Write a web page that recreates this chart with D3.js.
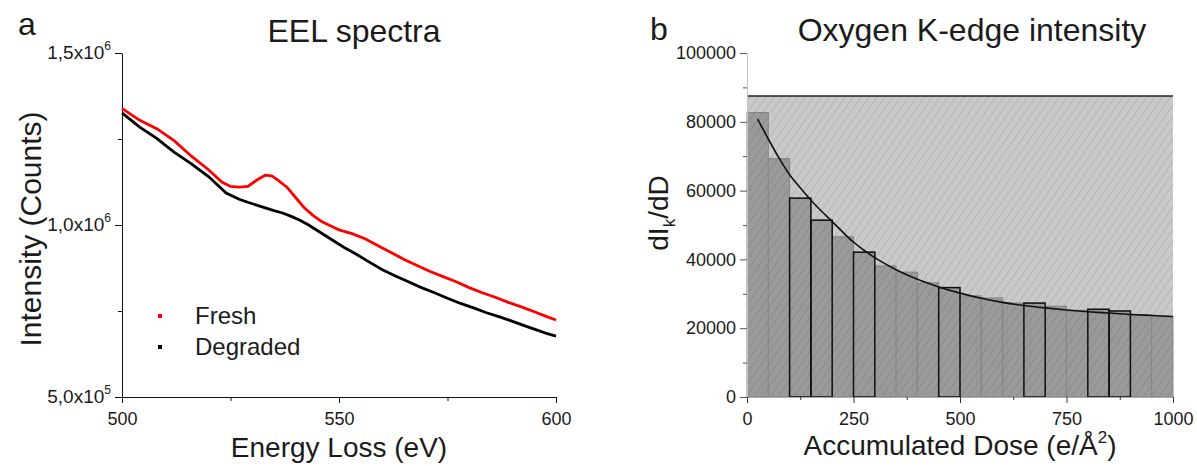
<!DOCTYPE html>
<html>
<head>
<meta charset="utf-8">
<script src="https://cdn.jsdelivr.net/npm/d3@7"></script>
<style>
  body { margin: 0; background: #fff; }
  svg text { font-family: "Liberation Sans", Arial, sans-serif; fill: #1b1b1b; }
</style>
</head>
<body>
<svg id="fig" width="1197" height="466"></svg>
<script>
// panel a : EEL spectra (energy in eV, counts)
const freshEnergy = [500, 504, 508, 512, 516, 520, 523, 525, 527, 529, 531, 533, 534.5, 536, 538, 540, 542, 544, 546, 548, 550,
  553, 556, 559, 562, 565, 568, 571, 574, 577, 580, 583, 586, 589, 592, 595, 598, 600];
const freshCounts = [1339000, 1305000, 1280000, 1245000, 1200000, 1160000, 1125000, 1112000, 1110000, 1112000, 1130000, 1145000,
  1143000, 1130000, 1110000, 1080000, 1050000, 1028000, 1010000, 998000, 986000, 975000, 960000, 940000, 920000, 900000, 882000,
  865000, 850000, 835000, 818000, 803000, 790000, 775000, 762000, 748000, 733000, 724000];
const degradedEnergy = [500, 504, 508, 512, 516, 520, 524, 527, 529, 531, 533, 535, 537, 539, 541, 543, 545, 547, 549, 551, 554,
  557, 560, 563, 566, 569, 572, 575, 578, 581, 584, 587, 590, 593, 596, 598, 600];
const degradedCounts = [1326000, 1285000, 1252000, 1212000, 1178000, 1140000, 1093000, 1075000, 1066000, 1058000, 1050000,
  1042000, 1035000, 1025000, 1014000, 1000000, 984000, 968000, 952000, 936000, 915000, 892000, 870000, 852000, 835000, 818000,
  803000, 787000, 772000, 759000, 745000, 733000, 720000, 706000, 693000, 684000, 677000];
const eelTicks = [500000, 1000000, 1500000];
const eelTickMantissa = ["5,0", "1,0", "1,5"];
const eelTickExp = ["5", "6", "6"];
const energyTicks = [500, 550, 600];

// panel b : oxygen K-edge intensity vs dose
const binStart = [0, 50, 100, 150, 200, 250, 300, 350, 400, 450, 500, 550, 600, 650, 700, 750, 800, 850, 900, 950];
const binValue = [82700, 69300, 57800, 51400, 46600, 42100, 38100, 36300, 33200, 31800, 29400, 28800, 27300, 27300, 26400,
  25200, 25500, 25000, 23900, 23300];
const outlinedBins = [100, 150, 250, 450, 650, 800, 850];
const fitDose = [25, 50, 75, 100, 125, 150, 175, 200, 250, 300, 350, 400, 450, 500, 550, 600, 650, 700, 750, 800, 850, 900, 950, 1000];
const fitValue = [80800, 75000, 69500, 64600, 60800, 57200, 54000, 51000, 45000, 40500, 37000, 34200, 32000, 30200, 28700,
  27500, 26600, 25900, 25300, 24800, 24400, 24000, 23700, 23400];
const ceilingValue = 87500;
const doseTicks = [0, 250, 500, 750, 1000];
const doseMinor = [125, 375, 625, 875];
const kTicks = [0, 20000, 40000, 60000, 80000, 100000];
const kMinor = [10000, 30000, 50000, 70000, 90000];

const svg = d3.select("#fig");
const defs = svg.append("defs");

function hatch(id, bg, fg) {
  const p = defs.append("pattern")
    .attr("id", id)
    .attr("patternUnits", "userSpaceOnUse")
    .attr("width", 6.5).attr("height", 6.5)
    .attr("patternTransform", "rotate(35)");
  p.append("rect").attr("width", 6.5).attr("height", 6.5).attr("fill", bg);
  p.append("line").attr("x1", 0.5).attr("x2", 0.5).attr("y1", 0).attr("y2", 6.5)
    .attr("stroke", fg).attr("stroke-width", 0.8);
}
hatch("hatchLight", "#c9c9c9", "#b0b0b0");
hatch("hatchDark", "#9a9a9a", "#878787");

function styleAxis(g, color, size) {
  g.selectAll("path.domain").attr("stroke", color);
  g.selectAll(".tick line").attr("stroke", color);
  g.selectAll(".tick text").attr("font-size", size).attr("fill", "#1b1b1b")
    .attr("font-family", "'Liberation Sans', Arial, sans-serif");
}

// ---------- panel a ----------
const xA = d3.scaleLinear().domain([500, 600]).range([122, 556]);
const yA = d3.scaleLinear().domain([500000, 1500000]).range([397, 53]);

const gA = svg.append("g");

const yAxA = gA.append("g").attr("transform", "translate(122,0)")
  .call(d3.axisLeft(yA).tickValues(eelTicks).tickSize(7).tickSizeOuter(0).tickFormat(""));
styleAxis(yAxA, "#111", 18);
gA.append("g").attr("transform", "translate(122,0)")
  .call(d3.axisLeft(yA).tickValues([750000, 1250000]).tickSize(4).tickFormat(""))
  .call(g => g.select(".domain").remove())
  .selectAll("line").attr("stroke", "#111");

eelTicks.forEach((v, i) => {
  const t = gA.append("text")
    .attr("x", 111).attr("y", yA(v) + 6)
    .attr("text-anchor", "end")
    .attr("font-size", 19);
  t.append("tspan").text(eelTickMantissa[i] + "x10");
  t.append("tspan").attr("font-size", 12).attr("dy", -9).text(eelTickExp[i]);
});

const xAxA = gA.append("g").attr("transform", "translate(0,397)")
  .call(d3.axisBottom(xA).tickValues(energyTicks).tickSize(6).tickPadding(9).tickSizeOuter(0));
styleAxis(xAxA, "#111", 18);
gA.append("g").attr("transform", "translate(0,397)")
  .call(d3.axisBottom(xA).tickValues([525, 575]).tickSize(4).tickFormat(""))
  .call(g => g.select(".domain").remove())
  .selectAll("line").attr("stroke", "#111");

const lineA = d3.line().x(d => xA(d[0])).y(d => yA(d[1]));
gA.append("path")
  .datum(d3.zip(degradedEnergy, degradedCounts))
  .attr("d", lineA).attr("fill", "none").attr("stroke", "#000").attr("stroke-width", 2.8);
gA.append("path")
  .datum(d3.zip(freshEnergy, freshCounts))
  .attr("d", lineA).attr("fill", "none").attr("stroke", "#ff0000").attr("stroke-width", 2.8);

const legend = [{ name: "Fresh", color: "#ff0000", y: 316 }, { name: "Degraded", color: "#000", y: 347 }];
legend.forEach(l => {
  gA.append("rect").attr("x", 158).attr("y", l.y - 2).attr("width", 4).attr("height", 4).attr("fill", l.color);
  gA.append("text").attr("x", 195).attr("y", l.y + 8).attr("font-size", 24).text(l.name);
});

gA.append("text").attr("x", 18).attr("y", 35).attr("font-size", 32).text("a");
gA.append("text").attr("x", 354).attr("y", 42).attr("text-anchor", "middle").attr("font-size", 32).text("EEL spectra");
gA.append("text").attr("x", 339).attr("y", 457).attr("text-anchor", "middle").attr("font-size", 28).text("Energy Loss (eV)");
gA.append("text").attr("transform", "translate(41,229) rotate(-90)")
  .attr("text-anchor", "middle").attr("font-size", 30).text("Intensity (Counts)");

// ---------- panel b ----------
const xB = d3.scaleLinear().domain([0, 1000]).range([747, 1173]);
const yB = d3.scaleLinear().domain([0, 100000]).range([397, 53]);

const gB = svg.append("g");

gB.append("rect")
  .attr("x", xB(0)).attr("y", yB(ceilingValue))
  .attr("width", xB(1000) - xB(0)).attr("height", yB(0) - yB(ceilingValue))
  .attr("fill", "url(#hatchLight)");

const bars = d3.zip(binStart, binValue);
gB.selectAll("rect.bar")
  .data(bars)
  .join("rect")
  .attr("class", "bar")
  .attr("x", d => xB(d[0]))
  .attr("y", d => yB(d[1]))
  .attr("width", d => xB(d[0] + 50) - xB(d[0]))
  .attr("height", d => yB(0) - yB(d[1]))
  .attr("fill", "url(#hatchDark)")
  .attr("stroke", "#858585")
  .attr("stroke-width", 1);

gB.selectAll("rect.outl")
  .data(bars.filter(d => outlinedBins.includes(d[0])))
  .join("rect")
  .attr("class", "outl")
  .attr("x", d => xB(d[0]))
  .attr("y", d => yB(d[1]))
  .attr("width", d => xB(d[0] + 50) - xB(d[0]))
  .attr("height", d => yB(0) - yB(d[1]))
  .attr("fill", "none")
  .attr("stroke", "#111")
  .attr("stroke-width", 1.5);

gB.append("line")
  .attr("x1", xB(0)).attr("x2", xB(1000))
  .attr("y1", yB(ceilingValue)).attr("y2", yB(ceilingValue))
  .attr("stroke", "#222").attr("stroke-width", 1.6);

gB.append("path")
  .datum(d3.zip(fitDose, fitValue))
  .attr("d", d3.line().x(d => xB(d[0])).y(d => yB(d[1])).curve(d3.curveMonotoneX))
  .attr("fill", "none").attr("stroke", "#111").attr("stroke-width", 1.6);

const yAxB = gB.append("g").attr("transform", "translate(747,0)")
  .call(d3.axisLeft(yB).tickValues(kTicks).tickSize(7).tickPadding(4).tickSizeOuter(0).tickFormat(d3.format("d")));
styleAxis(yAxB, "#555", 18);
yAxB.select("path.domain").attr("stroke", "#c4c4c4");
gB.append("g").attr("transform", "translate(747,0)")
  .call(d3.axisLeft(yB).tickValues(kMinor).tickSize(4).tickFormat(""))
  .call(g => g.select(".domain").remove())
  .selectAll("line").attr("stroke", "#555");

const xAxB = gB.append("g").attr("transform", "translate(0,397)")
  .call(d3.axisBottom(xB).tickValues(doseTicks).tickSize(6).tickPadding(9).tickSizeOuter(0).tickFormat(d3.format("d")));
styleAxis(xAxB, "#333", 18);
xAxB.select("path.domain").attr("stroke", "#aaa");
gB.append("g").attr("transform", "translate(0,397)")
  .call(d3.axisBottom(xB).tickValues(doseMinor).tickSize(3).tickFormat(""))
  .call(g => g.select(".domain").remove())
  .selectAll("line").attr("stroke", "#333");

gB.append("text").attr("x", 650).attr("y", 40).attr("font-size", 32).text("b");
gB.append("text").attr("x", 972).attr("y", 41).attr("text-anchor", "middle").attr("font-size", 32).text("Oxygen K-edge intensity");

const xt = gB.append("text").attr("x", 960).attr("y", 455).attr("text-anchor", "middle").attr("font-size", 28);
xt.append("tspan").text("Accumulated Dose (e/Å");
xt.append("tspan").attr("font-size", 17).attr("dy", -12).text("2");
xt.append("tspan").attr("dy", 12).text(")");

const yt = gB.append("text").attr("transform", "translate(668,213) rotate(-90)")
  .attr("text-anchor", "middle").attr("font-size", 28);
yt.append("tspan").text("dI");
yt.append("tspan").attr("font-size", 17).attr("dy", 7).text("k");
yt.append("tspan").attr("dy", -7).text("/dD");
</script>
</body>
</html>
